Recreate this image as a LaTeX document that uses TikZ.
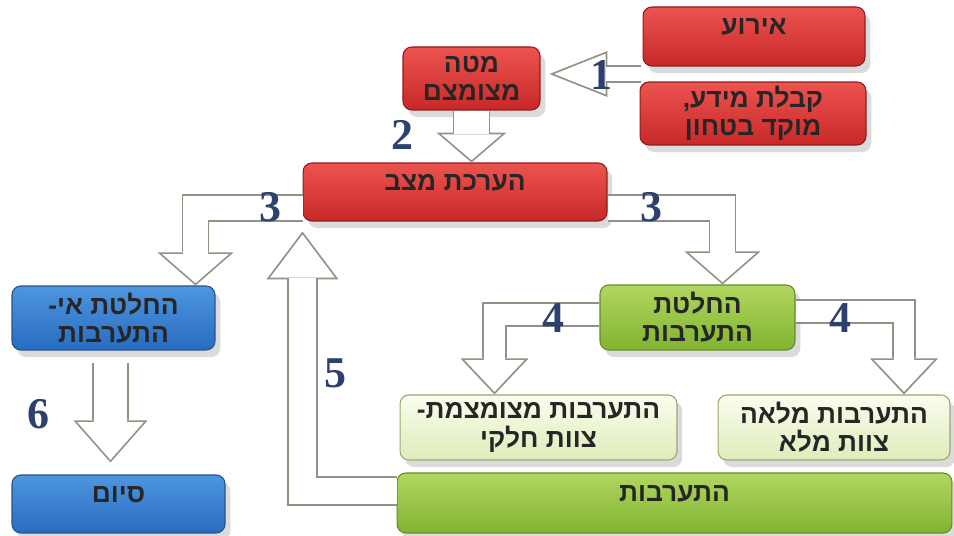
\documentclass[tikz,border=0pt]{standalone}
\usepackage{fontspec}
\usepackage{tikz}
\usetikzlibrary{positioning,calc,shadows,arrows.meta}
\TeXXeTstate=1
\newfontfamily\hebfont[Script=Hebrew]{Liberation Sans}
\newfontfamily\numfont{Liberation Serif}
\newcommand{\hebline}[1]{\beginR#1\endR}

\definecolor{redtop}{RGB}{236,84,80}
\definecolor{redbot}{RGB}{200,40,40}
\definecolor{redline}{RGB}{140,30,30}
\definecolor{bluetop}{RGB}{78,150,222}
\definecolor{bluebot}{RGB}{40,108,192}
\definecolor{blueline}{RGB}{40,80,140}
\definecolor{greentop}{RGB}{178,214,96}
\definecolor{greenbot}{RGB}{128,180,48}
\definecolor{greenline}{RGB}{100,140,40}
\definecolor{paletop}{RGB}{250,253,238}
\definecolor{palebot}{RGB}{222,236,186}
\definecolor{paleline}{RGB}{150,170,110}
\definecolor{arrline}{RGB}{145,145,132}
\definecolor{numblue}{RGB}{46,64,110}

\tikzset{
  box/.style={rounded corners=5pt, line width=0.6pt, align=center, inner sep=2pt,
    font=\hebfont\bfseries\fontsize{15}{16}\selectfont, text=black!85,
    drop shadow={opacity=0.28, shadow xshift=3pt, shadow yshift=-4pt}},
  redbox/.style={box, draw=redline, top color=redtop, bottom color=redbot},
  bluebox/.style={box, draw=blueline, top color=bluetop, bottom color=bluebot},
  greenbox/.style={box, draw=greenline, top color=greentop, bottom color=greenbot},
  palebox/.style={box, draw=paleline, top color=paletop, bottom color=palebot},
  topline/.style={text height=0.4cm, text depth=0.46cm},
  % shaft, tip length, tip width, inset, inner length, inner width
  blockarrow/.style n args={6}{draw=white, line width=#1, shorten >=#4,
    -{Triangle[length=#5, width=#6, line width=0pt]},
    preaction={draw=arrline, line width=#1+2pt, shorten >=0pt,
      -{Triangle[length=#2, width=#3, line width=0pt]}}},
  num/.style={font=\numfont\bfseries\fontsize{25}{25}\selectfont, text=numblue}
}

\begin{document}
\begin{tikzpicture}[x=0.02cm, y=-0.02cm] % 按像素坐标
  \path[use as bounding box, fill=white] (0,0) rectangle (954,536);

  % 红色方框
  \node[redbox, topline, minimum width=4.44cm, minimum height=1.18cm] (ev) at (754,36.5) {\hebline{אירוע}};
  \node[redbox, minimum width=4.52cm, minimum height=1.26cm] (info) at (753,113.5) {\hebline{קבלת מידע,}\\\hebline{מוקד בטחון}};
  \node[redbox, minimum width=2.74cm, minimum height=1.26cm] (hq) at (471.5,78.5) {\hebline{מטה}\\\hebline{מצומצם}};
  \node[redbox, topline, minimum width=6.08cm, minimum height=1.16cm] (eval) at (455,192) {\hebline{הערכת מצב}};

  \node[greenbox, minimum width=3.9cm, minimum height=1.3cm] (decide) at (697.5,317.5) {\hebline{החלטת}\\\hebline{התערבות}};
  \node[bluebox, minimum width=4.06cm, minimum height=1.28cm] (nodec) at (113.5,318) {\hebline{החלטת אי-}\\\hebline{התערבות}};
  \node[bluebox, topline, minimum width=4.26cm, minimum height=1.16cm] (finish) at (118.5,504) {\hebline{סיום}};
  \node[palebox, minimum width=5.54cm, minimum height=1.3cm] (part) at (538.5,427.5) {\hebline{התערבות מצומצמת-}\\\hebline{צוות חלקי}};
  \node[palebox, minimum width=4.64cm, minimum height=1.3cm] (full) at (834,427.5) {\hebline{התערבות מלאה}\\\hebline{צוות מלא}};
  \node[greenbox, topline, minimum width=11.1cm, minimum height=1.2cm] (act) at (674.5,503) {\hebline{התערבות}};

  % 箭头
  \coordinate (j1) at ($(ev.south west)!0.5!(info.north west)$);
  \coordinate (t1) at ($(j1 -| hq.east)+(9,0)$);
  \draw[blockarrow={8.2pt}{33pt}{26.2pt}{2.7pt}{29.3pt}{23.2pt}] (j1) -- (t1);
  \draw[blockarrow={19.6pt}{17pt}{39.8pt}{1.3pt}{14.7pt}{34.4pt}] (hq.south) -- (hq.south |- eval.north);
  \draw[blockarrow={13.9pt}{18.8pt}{43.2pt}{1.3pt}{16.5pt}{37.9pt}] ($(eval.west)+(0,16)$) -| ($(nodec.north)+(82,0)$);
  \draw[blockarrow={13.9pt}{18.8pt}{43.2pt}{1.3pt}{16.5pt}{37.9pt}] ($(eval.east)+(0,16)$) -| ($(decide.north)+(25,0)$);
  \draw[blockarrow={11.7pt}{20.5pt}{38.7pt}{1.5pt}{18pt}{34pt}] ($(decide.west)+(0,-3)$) -| ($(part.north)+(-44,0)$);
  \draw[blockarrow={11.7pt}{20.5pt}{38.7pt}{1.5pt}{18pt}{34pt}] ($(decide.east)+(0,-6)$) -| ($(full.north)+(70,0)$);
  \draw[blockarrow={15.1pt}{27.3pt}{41pt}{1.7pt}{24.6pt}{37pt}] ($(act.west)+(0,-12)$) -| ($(eval.south west)+(0,10)$);
  \draw[blockarrow={18.5pt}{23.9pt}{42.1pt}{1.5pt}{21.4pt}{37.7pt}] ($(nodec.south)+(-3,12)$) -- ($(finish.north)+(-8,-12)$);

  % 编号
  \node[num] (n1) at (601,75) {1};
  \node[num] (n2) at (402,135) {2};
  \node[num] (n3a) at (270,207) {3};
  \node[num] (n3b) at (651,207) {3};
  \node[num] (n4a) at (553,318) {4};
  \node[num] (n4b) at (840,318) {4};
  \node[num] (n5) at (335,373) {5};
  \node[num] (n6) at (38,414) {6};
\end{tikzpicture}
\end{document}
